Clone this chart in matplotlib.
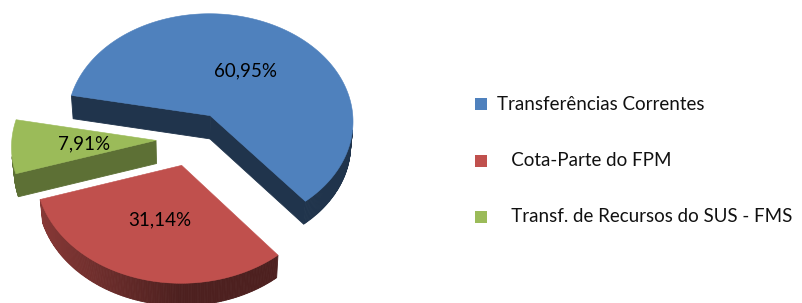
import numpy as np
import matplotlib
matplotlib.use('Agg')
import matplotlib.pyplot as plt
from matplotlib.patches import Polygon, Rectangle
from matplotlib.colors import to_rgb

# ---- data ----
labels = ['Transferências Correntes', '   Cota-Parte do FPM', '   Transf. de Recursos do SUS - FMS']
values = [60.95, 31.14, 7.91]
pct_labels = ['60,95%', '31,14%', '7,91%']
colors = ['#4F81BD', '#C0504D', '#9BBB59']

# ---- styling / geometry ----
side_k = [0.40, 0.40, 0.60]
side_grad = [0.0, 0.32, 0.0]
W, H = 802, 303
S = 142.0
elev = np.deg2rad(50)
Dcam = 13.0
h = 0.25
explode = 0.25
start = 169.0
cx, cy = 192.0, 162.0
FONT = 'Lato'

fig = plt.figure(figsize=(W / 100, H / 100), dpi=100)
ax = fig.add_axes([0, 0, 1, 1])
ax.set_xlim(0, W)
ax.set_ylim(H, 0)
ax.axis('off')

se, ce = np.sin(elev), np.cos(elev)
eye = np.array([0.0, -Dcam * ce, Dcam * se])


def proj(p):
    x, y, z = p
    v = y * se + z * ce
    d = y * ce - z * se
    f = Dcam / (Dcam + d)
    return (cx + S * x * f, cy - S * v * f)


def shade(c, k):
    r, g, b = to_rgb(c)
    return (r * k, g * k, b * k)


total = sum(values)
faces = []   # (dist, xy, color)
tops = []
label_pos = []
theta0 = start
for i, v in enumerate(values):
    span = 360.0 * v / total
    t2 = theta0
    t1 = theta0 - span
    theta0 = t1
    bis = np.deg2rad((t1 + t2) / 2)
    c = np.array([explode * np.cos(bis), explode * np.sin(bis)])
    ts = np.deg2rad(np.linspace(t1, t2, max(int(span * 1.5), 8)))
    arc = np.stack([c[0] + np.cos(ts), c[1] + np.sin(ts)], axis=1)

    # outer wall segments
    for k in range(len(ts) - 1):
        tm = (ts[k] + ts[k + 1]) / 2
        n = np.array([np.cos(tm), np.sin(tm), 0.0])
        pts = [np.array([arc[k][0], arc[k][1], 0.0]),
               np.array([arc[k + 1][0], arc[k + 1][1], 0.0]),
               np.array([arc[k + 1][0], arc[k + 1][1], h]),
               np.array([arc[k][0], arc[k][1], h])]
        cen = sum(pts) / 4
        if n @ (eye - cen) <= 0:
            continue
        kk = side_k[i] + side_grad[i] * max(0.0, -n[0])
        faces.append((np.linalg.norm(eye - cen), [proj(p) for p in pts], shade(colors[i], kk)))

    # radial cut faces
    for t, n in [(ts[0], np.array([np.sin(ts[0]), -np.cos(ts[0]), 0.0])),
                 (ts[-1], np.array([-np.sin(ts[-1]), np.cos(ts[-1]), 0.0]))]:
        e = np.array([c[0] + np.cos(t), c[1] + np.sin(t)])
        pts = [np.array([c[0], c[1], 0.0]), np.array([c[0], c[1], h]),
               np.array([e[0], e[1], h]), np.array([e[0], e[1], 0.0])]
        cen = sum(pts) / 4
        if n @ (eye - cen) <= 0:
            continue
        faces.append((np.linalg.norm(eye - cen), [proj(p) for p in pts], shade(colors[i], side_k[i])))

    top = [proj((c[0], c[1], h))] + [proj((a[0], a[1], h)) for a in arc]
    tops.append((top, colors[i]))
    lp = c + 0.50 * np.array([np.cos(bis), np.sin(bis)])
    label_pos.append(proj((lp[0], lp[1], h)))

faces.sort(key=lambda f: -f[0])
for _, xy, col in faces:
    ax.add_patch(Polygon(xy, closed=True, facecolor=col, edgecolor=col, linewidth=0.6))
for xy, col in tops:
    ax.add_patch(Polygon(xy, closed=True, facecolor=col, edgecolor=col, linewidth=0.4))

for (x, y), t in zip(label_pos, pct_labels):
    ax.text(x, y, t, ha='center', va='center', fontsize=13.5, family=FONT, color='#000000')

# legend
leg_y = [104, 161, 217]
for lab, col, y in zip(labels, colors, leg_y):
    ax.add_patch(Rectangle((475, y - 6), 12, 12, facecolor=col, edgecolor='none'))
    ax.text(497, y, lab, ha='left', va='center', fontsize=13.5, family=FONT, color='#111111')

fig.savefig('out.png', dpi=100)
